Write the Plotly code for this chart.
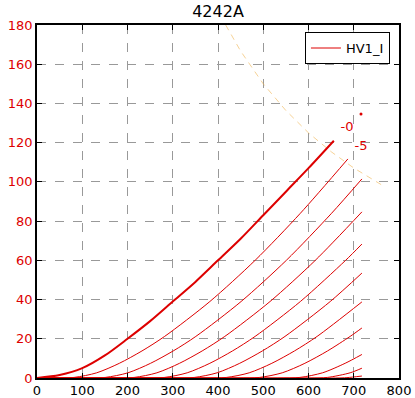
import plotly.graph_objects as go

# Plate curves (plate voltage V, plate current mA)
v_g0 = [0, 50, 100, 150, 200, 250, 300, 350, 400, 450, 500, 550, 600, 656]
i_g0 = [0, 1.5, 5, 11.5, 20, 29, 39, 49, 60, 71, 83, 95, 107, 121]

thin_v = [
    [0, 32, 82, 132, 182, 232, 282, 382, 482, 582, 687],
    [0, 101, 151, 201, 251, 301, 351, 451, 551, 651, 718],
    [0, 165, 215, 265, 315, 365, 415, 515, 615, 718],
    [0, 232, 282, 332, 382, 432, 482, 582, 682, 718],
    [0, 298, 348, 398, 448, 498, 548, 648, 718],
    [0, 369, 419, 469, 519, 569, 619, 718],
    [0, 442, 492, 542, 592, 642, 692, 718],
    [0, 531, 581, 631, 681, 718],
    [0, 600, 642, 692, 718],
    [0, 660, 685, 718],
]
thin_i = [
    [0, 0, 0.3, 2.65, 7.5, 13.8, 21.2, 39, 60, 84, 111.7],
    [0, 0, 0.3, 2.65, 7.5, 13.8, 21.2, 39, 60, 84, 101.5],
    [0, 0, 0.3, 2.65, 7.5, 13.8, 21.2, 39, 60, 84.7],
    [0, 0, 0.3, 2.65, 7.5, 13.8, 21.2, 39, 60, 68.3],
    [0, 0, 0.3, 2.65, 7.5, 13.8, 21.2, 39, 53.5],
    [0, 0, 0.3, 2.65, 7.5, 13.8, 21.2, 38.8],
    [0, 0, 0.3, 2.65, 7.5, 13.8, 21.2, 25.5],
    [0, 0, 0.3, 2.65, 7.5, 12],
    [0, 0, 0.3, 2.65, 5],
    [0, 0, 0.2, 1],
]

# Max plate dissipation curve
pd_v = [417, 450, 500, 550, 600, 650, 700, 750, 765]
pd_i = [180, 166.7, 150, 136.4, 125, 115.4, 107.1, 100, 98]

label_text = ["-0", "-5"]
label_v = [685, 716]
label_i = [127.5, 117.8]

x_ticks = [0, 100, 200, 300, 400, 500, 600, 700, 800]
y_ticks = [0, 20, 40, 60, 80, 100, 120, 140, 160, 180]

RED = "#dd0000"
fig = go.Figure()

fig.add_trace(go.Scatter(x=pd_v, y=pd_i, mode="lines", showlegend=False,
                         line=dict(color="rgba(240,180,80,0.6)", width=1, dash="6px,5px")))

for k, (xs, ys) in enumerate(zip(thin_v, thin_i)):
    fig.add_trace(go.Scatter(x=xs, y=ys, mode="lines", name="HV1_I",
                             showlegend=(k == 0),
                             line=dict(color=RED, width=1, shape="spline", smoothing=0.8)))

fig.add_trace(go.Scatter(x=v_g0, y=i_g0, mode="lines", showlegend=False,
                         line=dict(color=RED, width=2, shape="spline", smoothing=0.8)))

fig.add_trace(go.Scatter(x=label_v, y=label_i, mode="text", text=label_text,
                         showlegend=False,
                         textfont=dict(color=RED, size=13, family="DejaVu Sans")))
fig.add_trace(go.Scatter(x=[716], y=[134.6], mode="markers", showlegend=False,
                         marker=dict(color=RED, size=3)))

axis_common = dict(
    showline=True, linecolor="black", linewidth=1.5, mirror="ticks",
    ticks="inside", ticklen=5, tickcolor="black",
    showgrid=True, gridcolor="#999999", griddash="dash", gridwidth=1,
    zeroline=False, automargin=False,
)
fig.update_xaxes(range=[0, 800], tickvals=x_ticks,
                 tickfont=dict(color="black", size=13, family="DejaVu Sans"),
                 **axis_common)
fig.update_yaxes(range=[0, 180], tickvals=y_ticks,
                 tickfont=dict(color="#dd0000", size=13, family="DejaVu Sans"),
                 **axis_common)

fig.update_layout(
    width=415, height=398,
    margin=dict(l=37, r=16, t=25, b=20, autoexpand=False),
    plot_bgcolor="white", paper_bgcolor="white",
    title=dict(text="4242A", x=218 / 415, xanchor="center", y=0.985, yanchor="top",
               font=dict(size=16, color="black", family="DejaVu Sans")),
    legend=dict(x=0.975, y=0.98, xanchor="right", yanchor="top",
                bordercolor="black", borderwidth=1, bgcolor="white",
                tracegroupgap=0, itemwidth=30,
                font=dict(size=13, color="black", family="DejaVu Sans")),
    font=dict(family="DejaVu Sans"),
)

fig.write_html("out.html", config={"displayModeBar": False},
               post_script="document.body.style.margin='0px';document.body.style.overflow='hidden';")
